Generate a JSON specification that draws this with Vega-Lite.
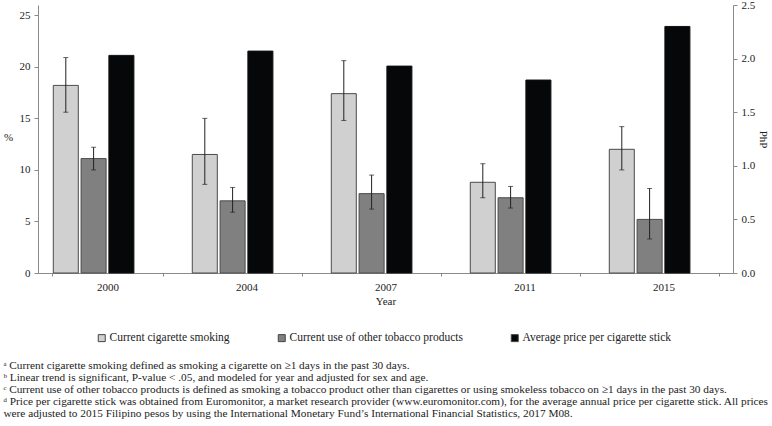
{
  "$schema": "https://vega.github.io/schema/vega-lite/v6.json",
  "width": 695,
  "height": 268,
  "autosize": {"type": "none"},
  "padding": {"left": 38, "top": 5, "right": 39, "bottom": 153},
  "background": "white",
  "config": {
    "font": "Liberation Serif",
    "view": {"stroke": null},
    "axis": {
      "labelFont": "Liberation Serif",
      "titleFont": "Liberation Serif",
      "labelFontSize": 11,
      "titleFontSize": 11,
      "titleFontWeight": "normal",
      "labelColor": "#222",
      "titleColor": "#222",
      "domainColor": "#8a8a8a",
      "tickColor": "#8a8a8a",
      "grid": false
    },
    "legend": {
      "orient": "none",
      "legendX": 58,
      "legendY": 327,
      "direction": "horizontal",
      "symbolType": "square",
      "symbolSize": 49,
      "symbolStrokeColor": "#444",
      "symbolStrokeWidth": 1,
      "labelFont": "Liberation Serif",
      "labelFontSize": 11.5,
      "labelLimit": 0,
      "labelColor": "#222",
      "labelOffset": 2,
      "columnPadding": 46
    }
  },
  "title": {
    "text": [
      "ᵃ Current cigarette smoking defined as smoking a cigarette on ≥1 days in the past 30 days.",
      "ᵇ Linear trend is significant, P-value < .05, and modeled for year and adjusted for sex and age.",
      "ᶜ Current use of other tobacco products is defined as smoking a tobacco product other than cigarettes or using smokeless tobacco on ≥1 days in the past 30 days.",
      "ᵈ Price per cigarette stick was obtained from Euromonitor, a market research provider (www.euromonitor.com), for the average annual price per cigarette stick. All prices",
      "were adjusted to 2015 Filipino pesos by using the International Monetary Fund’s International Financial Statistics, 2017 M08."
    ],
    "orient": "bottom",
    "anchor": "start",
    "frame": "bounds",
    "font": "Liberation Serif",
    "fontSize": 11.3,
    "fontWeight": "normal",
    "lineHeight": 12,
    "offset": 16,
    "color": "#222"
  },
  "data": {
    "values": [
      {"year": "2000", "series": "Current cigarette smoking", "value": 18.2, "lo": 15.6, "hi": 20.9},
      {"year": "2000", "series": "Current use of other tobacco products", "value": 11.1, "lo": 10.0, "hi": 12.2},
      {"year": "2000", "series": "Average price per cigarette stick", "value": 2.03},
      {"year": "2004", "series": "Current cigarette smoking", "value": 11.5, "lo": 8.6, "hi": 15.0},
      {"year": "2004", "series": "Current use of other tobacco products", "value": 7.0, "lo": 5.9, "hi": 8.3},
      {"year": "2004", "series": "Average price per cigarette stick", "value": 2.07},
      {"year": "2007", "series": "Current cigarette smoking", "value": 17.4, "lo": 14.8, "hi": 20.6},
      {"year": "2007", "series": "Current use of other tobacco products", "value": 7.7, "lo": 6.2, "hi": 9.5},
      {"year": "2007", "series": "Average price per cigarette stick", "value": 1.93},
      {"year": "2011", "series": "Current cigarette smoking", "value": 8.8, "lo": 7.3, "hi": 10.6},
      {"year": "2011", "series": "Current use of other tobacco products", "value": 7.3, "lo": 6.3, "hi": 8.4},
      {"year": "2011", "series": "Average price per cigarette stick", "value": 1.80},
      {"year": "2015", "series": "Current cigarette smoking", "value": 12.0, "lo": 10.0, "hi": 14.2},
      {"year": "2015", "series": "Current use of other tobacco products", "value": 5.2, "lo": 3.3, "hi": 8.2},
      {"year": "2015", "series": "Average price per cigarette stick", "value": 2.30}
    ]
  },
  "encoding": {
    "x": {
      "field": "year",
      "type": "nominal",
      "scale": {"paddingInner": 0.2, "paddingOuter": 0.1},
      "axis": {"title": "Year", "labelAngle": 0, "tickBand": "extent", "tickSize": 3, "labelPadding": 5, "titlePadding": 3}
    },
    "xOffset": {
      "field": "series",
      "type": "nominal",
      "scale": {
        "domain": ["Current cigarette smoking", "Current use of other tobacco products", "Average price per cigarette stick", "(blank)"],
        "paddingInner": 0.1,
        "paddingOuter": 0.05
      }
    }
  },
  "layer": [
    {
      "transform": [{"filter": "datum.series !== 'Average price per cigarette stick'"}],
      "layer": [
        {
          "mark": {"type": "bar", "stroke": "#4a4a4a", "strokeWidth": 1},
          "encoding": {
            "y": {"field": "value", "type": "quantitative", "title": "%", "scale": {"domain": [0, 25]},
              "axis": {"values": [0, 5, 10, 15, 20, 25], "tickSize": 4, "titleAngle": 0, "titleX": -30, "titleY": 137, "labelPadding": 4}},
            "color": {
              "field": "series",
              "type": "nominal",
              "title": null,
              "scale": {
                "domain": ["Current cigarette smoking", "Current use of other tobacco products", "Average price per cigarette stick"],
                "range": ["#d0d0d0", "#808080", "#050708"]
              }
            }
          }
        },
        {
          "mark": {"type": "rule", "color": "#222", "strokeWidth": 1},
          "encoding": {
            "y": {"field": "lo", "type": "quantitative", "title": "%"},
            "y2": {"field": "hi"}
          }
        },
        {
          "mark": {"type": "tick", "color": "#222", "thickness": 1, "size": 5, "orient": "horizontal"},
          "encoding": {"y": {"field": "lo", "type": "quantitative", "title": "%"}}
        },
        {
          "mark": {"type": "tick", "color": "#222", "thickness": 1, "size": 5, "orient": "horizontal"},
          "encoding": {"y": {"field": "hi", "type": "quantitative", "title": "%"}}
        }
      ]
    },
    {
      "transform": [{"filter": "datum.series === 'Average price per cigarette stick'"}],
      "mark": {"type": "bar", "stroke": "#111", "strokeWidth": 1},
      "encoding": {
        "y": {"field": "value", "type": "quantitative", "title": "PhP", "scale": {"domain": [0, 2.5]},
          "axis": {"orient": "right", "values": [0, 0.5, 1, 1.5, 2, 2.5], "format": ".1f", "tickSize": 4, "titleAngle": 90, "titlePadding": 3, "labelPadding": 4}},
        "color": {
          "field": "series",
          "type": "nominal",
          "title": null,
          "scale": {
            "domain": ["Current cigarette smoking", "Current use of other tobacco products", "Average price per cigarette stick"],
            "range": ["#d0d0d0", "#808080", "#050708"]
          }
        }
      }
    }
  ],
  "resolve": {"scale": {"y": "independent"}}
}
